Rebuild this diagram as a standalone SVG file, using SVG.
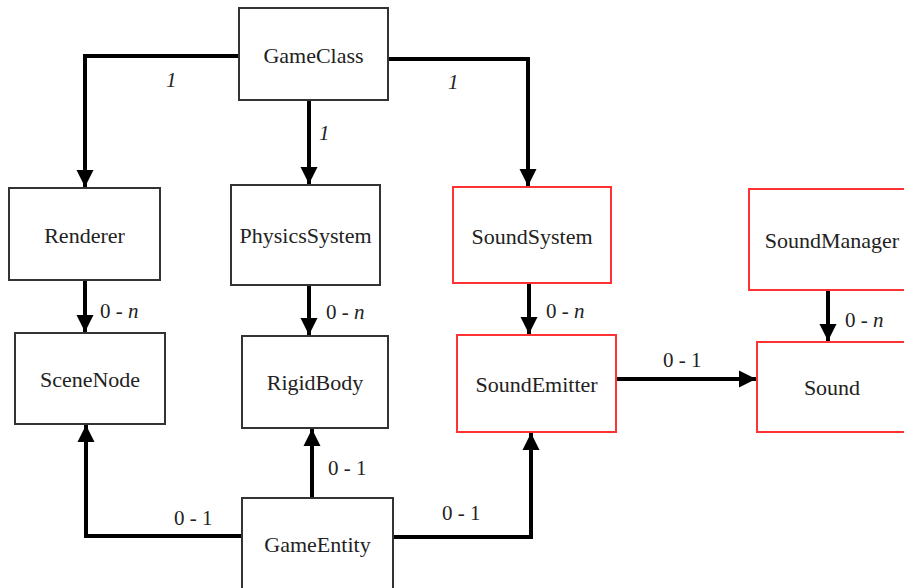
<svg xmlns="http://www.w3.org/2000/svg" width="904" height="588" viewBox="0 0 904 588">
<style>
.box{fill:#fff;stroke:#333;stroke-width:2}
.red{fill:#fff;stroke:#f33;stroke-width:2}
.t{font-family:'Liberation Serif','DejaVu Serif',serif;font-size:22px;fill:#222;text-anchor:middle}
.l{font-family:'Liberation Serif','DejaVu Serif',serif;font-size:21px;fill:#222}
.c{fill:none;stroke:#000;stroke-width:4}
</style>
<defs>
<marker id="ah" viewBox="0 0 10 10" refX="10" refY="5" markerWidth="4.3" markerHeight="4.3" markerUnits="strokeWidth" orient="auto">
<path d="M0,0 L10,5 L0,10 Z" fill="#000"/>
</marker>
</defs>
<rect width="904" height="588" fill="#fff"/>
<g id="connectors">
<path class="c" d="M239,56 H85 V187" marker-end="url(#ah)"/>
<path class="c" d="M309,100 V184" marker-end="url(#ah)"/>
<path class="c" d="M388,59 H528 V186" marker-end="url(#ah)"/>
<path class="c" d="M85,280 V332" marker-end="url(#ah)"/>
<path class="c" d="M309,285 V335" marker-end="url(#ah)"/>
<path class="c" d="M529,283 V334" marker-end="url(#ah)"/>
<path class="c" d="M828,290 V341" marker-end="url(#ah)"/>
<path class="c" d="M616,379 H756" marker-end="url(#ah)"/>
<path class="c" d="M242,536 H86 V425" marker-end="url(#ah)"/>
<path class="c" d="M312,498 V429" marker-end="url(#ah)"/>
<path class="c" d="M393,537 H531 V433" marker-end="url(#ah)"/>
<text class="l" x="166" y="87" font-style="italic">1</text>
<text class="l" x="319" y="140" font-style="italic">1</text>
<text class="l" x="448" y="89" font-style="italic">1</text>
<text class="l" x="100" y="318">0 - <tspan font-style="italic">n</tspan></text>
<text class="l" x="326" y="319">0 - <tspan font-style="italic">n</tspan></text>
<text class="l" x="546" y="318">0 - <tspan font-style="italic">n</tspan></text>
<text class="l" x="845" y="327">0 - <tspan font-style="italic">n</tspan></text>
<text class="l" x="663" y="367">0 - 1</text>
<text class="l" x="174" y="525">0 - 1</text>
<text class="l" x="328" y="475">0 - 1</text>
<text class="l" x="442" y="520">0 - 1</text>
</g>
<g id="GameClass"><rect class="box" x="239" y="8" width="149" height="92"/><text class="t" x="313.5" y="63">GameClass</text></g>
<g id="Renderer"><rect class="box" x="9" y="188" width="151" height="92"/><text class="t" x="84.5" y="243">Renderer</text></g>
<g id="SceneNode"><rect class="box" x="15" y="333" width="150" height="91"/><text class="t" x="90" y="387">SceneNode</text></g>
<g id="PhysicsSystem"><rect class="box" x="231" y="185" width="149" height="100"/><text class="t" x="305.5" y="243">PhysicsSystem</text></g>
<g id="RigidBody"><rect class="box" x="242" y="336" width="146" height="92"/><text class="t" x="315" y="390">RigidBody</text></g>
<g id="SoundSystem"><rect class="red" x="453" y="187" width="158" height="96"/><text class="t" x="532" y="244">SoundSystem</text></g>
<g id="SoundEmitter"><rect class="red" x="457" y="335" width="159" height="97"/><text class="t" x="536.5" y="392">SoundEmitter</text></g>
<g id="SoundManager"><rect class="red" x="749" y="189" width="165" height="101"/><text class="t" x="832" y="248">SoundManager</text></g>
<g id="Sound"><rect class="red" x="757" y="342" width="157" height="90"/><text class="t" x="832" y="395">Sound</text></g>
<g id="GameEntity"><rect class="box" x="242" y="498" width="151" height="100"/><text class="t" x="317.5" y="552">GameEntity</text></g>
</svg>
